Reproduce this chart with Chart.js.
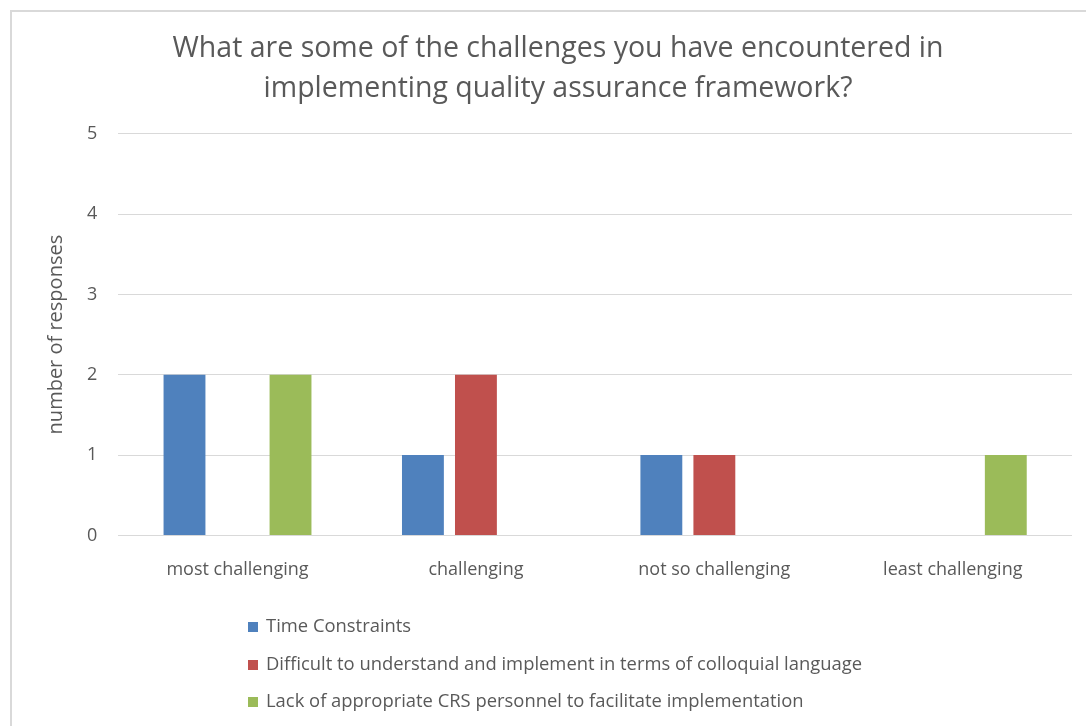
<!DOCTYPE html>
<html>
<head>
<meta charset="utf-8">
<script src="https://cdn.jsdelivr.net/npm/chart.js@4.4.1/dist/chart.umd.min.js"></script>
<style>
  html, body { margin: 0; padding: 0; background: #fff; overflow: hidden; }
  #frame { position: absolute; left: 10px; top: 10px; width: 1100px; height: 740px; border: 2px solid #d9d9d9; }
  #wrap { position: absolute; left: 0; top: 0; width: 1086px; height: 726px; }
  #legend { position: absolute; left: 248px; top: 612px; font-family: "Open Sans", Lato, sans-serif; font-size: 18.4px; color: #595959; }
  #legend div { height: 37.5px; line-height: 26px; white-space: nowrap; }
  #legend span { display: inline-block; width: 10px; height: 10px; margin-right: 8px; vertical-align: 0px; }
</style>
</head>
<body>
<div id="frame"></div>
<div id="wrap"><canvas id="chart" width="1086" height="726"></canvas></div>
<div id="legend"></div>
<script>
var categories = ["most challenging", "challenging", "not so challenging", "least challenging"];
var seriesNames = [
  "Time Constraints",
  "Difficult to understand and implement in terms of colloquial language",
  "Lack of appropriate CRS personnel to facilitate implementation"
];
var timeConstraints = [2, 1, 1, 0];
var difficultLanguage = [0, 2, 1, 0];
var lackPersonnel = [2, 0, 0, 1];
var yTicks = [0, 1, 2, 3, 4, 5];
var colors = ["#4f81bd", "#c0504d", "#9bbb59"];

var fontFamily = "'Open Sans', Lato, sans-serif";
var grey = "#595959";

var ctx = document.getElementById("chart").getContext("2d");
var myChart = new Chart(ctx, {
  type: "bar",
  data: {
    labels: categories,
    datasets: [
      { label: seriesNames[0], data: timeConstraints, backgroundColor: colors[0] },
      { label: seriesNames[1], data: difficultLanguage, backgroundColor: colors[1] },
      { label: seriesNames[2], data: lackPersonnel, backgroundColor: colors[2] }
    ]
  },
  options: {
    responsive: false,
    animation: false,
    categoryPercentage: 0.667,
    barPercentage: 0.79,
    layout: { padding: { left: 44, right: 14, top: 29, bottom: 129 } },
    plugins: {
      legend: { display: false },
      tooltip: { enabled: false },
      title: {
        display: true,
        text: ["What are some of the challenges you have encountered in", "implementing quality assurance framework?"],
        color: grey,
        font: { family: fontFamily, size: 28.5, weight: "normal", lineHeight: 1.4 },
        padding: { top: 0, bottom: 25 }
      }
    },
    scales: {
      x: {
        grid: { display: false },
        border: { display: false },
        ticks: { color: grey, font: { family: fontFamily, size: 18 }, padding: 16 }
      },
      y: {
        min: 0,
        max: 5,
        afterBuildTicks: function (axis) {
          axis.ticks = yTicks.map(function (v) { return { value: v }; });
        },
        grid: { color: "#d9d9d9", drawTicks: false, lineWidth: 1 },
        border: { display: false },
        ticks: { color: grey, font: { family: fontFamily, size: 18 }, padding: 21 },
        title: {
          display: true,
          text: "number of responses",
          color: grey,
          font: { family: fontFamily, size: 20, lineHeight: 1 },
          padding: { top: 2, bottom: 0 }
        }
      }
    }
  }
});

var legendEl = document.getElementById("legend");
myChart.data.datasets.forEach(function (ds) {
  var row = document.createElement("div");
  var box = document.createElement("span");
  box.style.background = ds.backgroundColor;
  row.appendChild(box);
  row.appendChild(document.createTextNode(ds.label));
  legendEl.appendChild(row);
});
</script>
</body>
</html>
